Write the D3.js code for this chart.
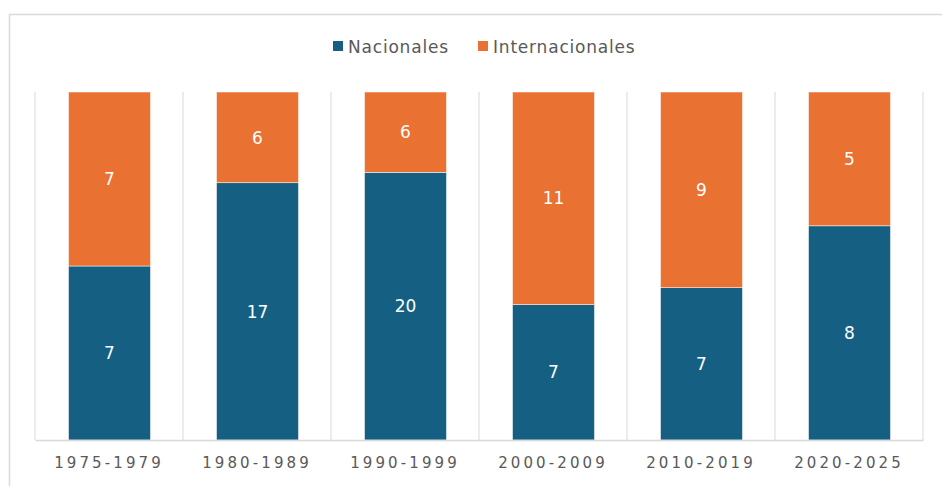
<!DOCTYPE html>
<html>
<head>
<meta charset="utf-8">
<script src="https://cdn.jsdelivr.net/npm/d3@7"></script>
<style>
  body { margin: 0; background: #fff; }
  svg { display: block; font-family: "DejaVu Sans", sans-serif; }
</style>
</head>
<body>
<div id="chart"></div>
<script>
// Data
const periods = ['1975-1979', '1980-1989', '1990-1999', '2000-2009', '2010-2019', '2020-2025'];
const nacionales = [7, 17, 20, 7, 7, 8];
const internacionales = [7, 6, 6, 11, 9, 5];
const seriesNames = ['Nacionales', 'Internacionales'];
const colors = ['#156082', '#e97132'];

const width = 942;
const height = 486;
const margin = { top: 92, right: 19, bottom: 46, left: 35 };
const innerW = width - margin.left - margin.right;
const innerH = height - margin.top - margin.bottom;

const svg = d3.select('#chart').append('svg')
  .attr('width', width)
  .attr('height', height);

// Chart frame
svg.append('rect')
  .attr('x', 9.5).attr('y', 14.5)
  .attr('width', width + 20).attr('height', height + 20)
  .attr('fill', 'none')
  .attr('stroke', '#d9d9d9')
  .attr('stroke-width', 1.5);

const g = svg.append('g')
  .attr('transform', `translate(${margin.left},${margin.top})`);

const rows = periods.map((p, i) => ({
  period: p,
  Nacionales: nacionales[i] / (nacionales[i] + internacionales[i]),
  Internacionales: internacionales[i] / (nacionales[i] + internacionales[i]),
  raw: [nacionales[i], internacionales[i]]
}));

const series = d3.stack().keys(seriesNames)(rows);

const x = d3.scaleBand()
  .domain(periods)
  .range([0, innerW])
  .paddingInner(0.446)
  .paddingOuter(0.223);

const y = d3.scaleLinear()
  .domain([0, 1])
  .range([innerH, 0]);

// Vertical gridlines between categories
const step = x.step();
const gridXs = d3.range(periods.length + 1).map(i => x(periods[0]) - x.paddingOuter() * step + i * step);
g.selectAll('.grid')
  .data(gridXs)
  .join('line')
  .attr('class', 'grid')
  .attr('x1', d => d).attr('x2', d => d)
  .attr('y1', 0).attr('y2', innerH)
  .attr('stroke', '#d9d9d9')
  .attr('stroke-width', 1);

// Bars
g.selectAll('.series')
  .data(series)
  .join('g')
  .attr('class', 'series')
  .attr('fill', (d, i) => colors[i])
  .selectAll('rect')
  .data(d => d)
  .join('rect')
  .attr('x', d => x(d.data.period) + 0.5)
  .attr('y', d => y(d[1]))
  .attr('width', x.bandwidth())
  .attr('height', d => y(d[0]) - y(d[1]))
  .attr('stroke', '#ffffff')
  .attr('stroke-width', 0.5);

// Value labels
series.forEach((s, si) => {
  g.selectAll(`.lbl${si}`)
    .data(s)
    .join('text')
    .attr('class', `lbl${si}`)
    .attr('x', d => x(d.data.period) + x.bandwidth() / 2 + 0.5)
    .attr('y', d => (y(d[0]) + y(d[1])) / 2)
    .attr('dy', '0.36em')
    .attr('text-anchor', 'middle')
    .attr('fill', '#ffffff')
    .attr('font-size', '17px')
    .text(d => d.data.raw[si]);
});

// X axis
const xAxis = g.append('g')
  .attr('transform', `translate(0,${innerH})`)
  .call(d3.axisBottom(x).tickSize(0).tickPadding(17));
xAxis.select('.domain')
  .attr('stroke', '#d9d9d9')
  .attr('stroke-width', 1.5);
xAxis.selectAll('text')
  .attr('fill', '#595959')
  .attr('font-size', '15px')
  .attr('letter-spacing', '3.1px')
  .attr('font-family', '"DejaVu Sans", sans-serif');

// Legend
const legendItems = [
  { name: 'Nacionales', x: 333 },
  { name: 'Internacionales', x: 478 }
];
const legend = svg.append('g');
legendItems.forEach((item, i) => {
  legend.append('rect')
    .attr('x', item.x).attr('y', 41)
    .attr('width', 10).attr('height', 10)
    .attr('fill', colors[i]);
  legend.append('text')
    .attr('x', item.x + 15).attr('y', 53)
    .attr('fill', '#595959')
    .attr('font-size', '17px')
    .attr('letter-spacing', '0.8px')
    .text(item.name);
});
</script>
</body>
</html>
